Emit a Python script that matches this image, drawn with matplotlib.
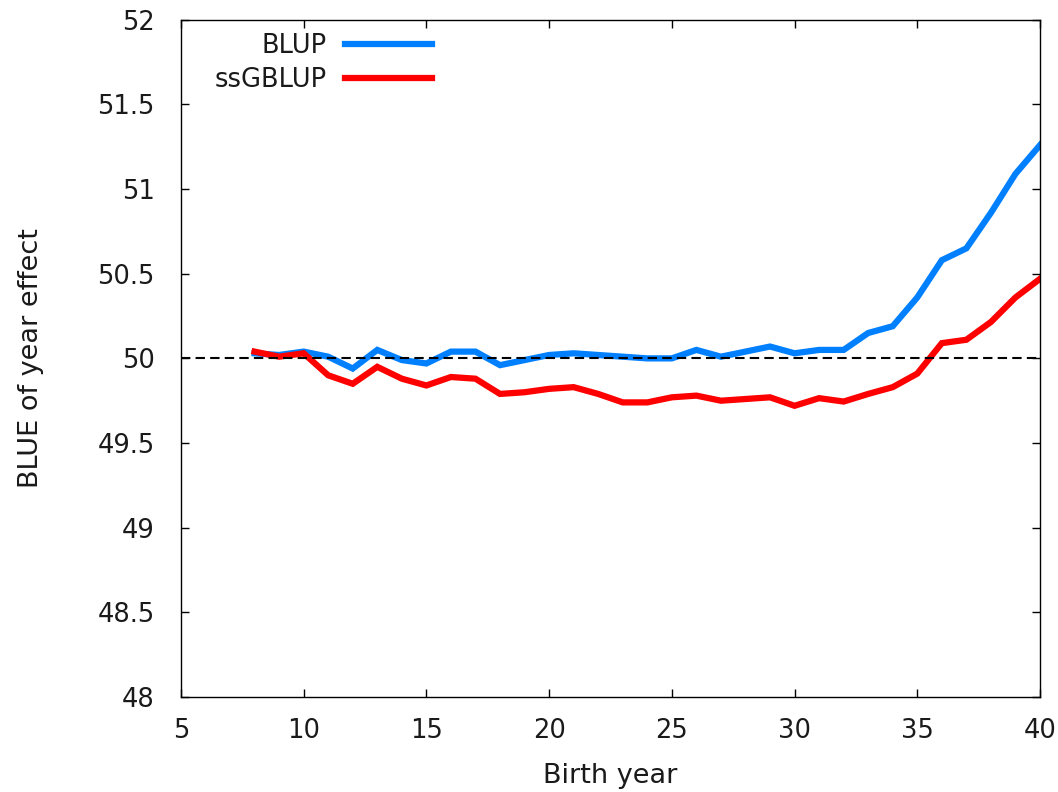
import matplotlib
matplotlib.use('Agg')
import matplotlib.pyplot as plt
import numpy as np

years = list(range(8, 41))
blup = [50.03, 50.02, 50.04, 50.01, 49.94, 50.05, 49.99, 49.97, 50.04, 50.04,
        49.96, 49.99, 50.02, 50.03, 50.02, 50.01, 50.00, 50.00, 50.05, 50.01,
        50.04, 50.07, 50.03, 50.05, 50.05, 50.15, 50.19, 50.36, 50.58, 50.65,
        50.86, 51.09, 51.26]
ssgblup = [50.04, 50.01, 50.03, 49.90, 49.85, 49.95, 49.88, 49.84, 49.89, 49.88,
           49.79, 49.80, 49.82, 49.83, 49.79, 49.74, 49.74, 49.77, 49.78, 49.75,
           49.76, 49.77, 49.72, 49.765, 49.745, 49.79, 49.83, 49.91, 50.09, 50.11,
           50.215, 50.36, 50.47]

txt = '#1a1a1a'
fig = plt.figure(figsize=(10.58, 7.92), dpi=100)
ax = fig.add_axes([0.171, 0.12, 0.812, 0.855])

ax.plot(years, blup, color='#0080ff', lw=4.5, label='BLUP', solid_joinstyle='miter')
ax.plot(years, ssgblup, color='#ff0000', lw=4.5, label='ssGBLUP', solid_joinstyle='miter')
ax.axhline(50, color='black', ls='--', lw=1.5, dashes=(4.5, 2.5))

ax.set_xlim(5, 40)
ax.set_ylim(48, 52)
ax.set_xticks(np.arange(5, 41, 5))
ax.set_yticks(np.arange(48, 52.01, 0.5))
ax.set_yticklabels(['48', '48.5', '49', '49.5', '50', '50.5', '51', '51.5', '52'])
ax.tick_params(direction='in', top=True, right=True, length=6, width=1,
               labelsize=18.5, labelcolor=txt)
ax.tick_params(axis='x', pad=15)
ax.tick_params(axis='y', pad=19)
ax.set_xlabel('Birth year', fontsize=19.5, color=txt)
ax.set_ylabel('BLUE of year effect', fontsize=19.5, color=txt)
ax.xaxis.set_label_coords(0.5, -0.0975)
ax.yaxis.set_label_coords(-0.159, 0.5)
for s in ax.spines.values():
    s.set_linewidth(1)

leg = ax.legend(loc='upper right', frameon=False, markerfirst=False, fontsize=18.5,
                handlelength=3.4, handletextpad=0.7, borderaxespad=0, borderpad=0,
                labelspacing=0.28, bbox_to_anchor=((432 - 181) / 859, 0.98))
for t in leg.get_texts():
    t.set_ha('right')
    t.set_color(txt)

plt.savefig('out.png', dpi=100)
